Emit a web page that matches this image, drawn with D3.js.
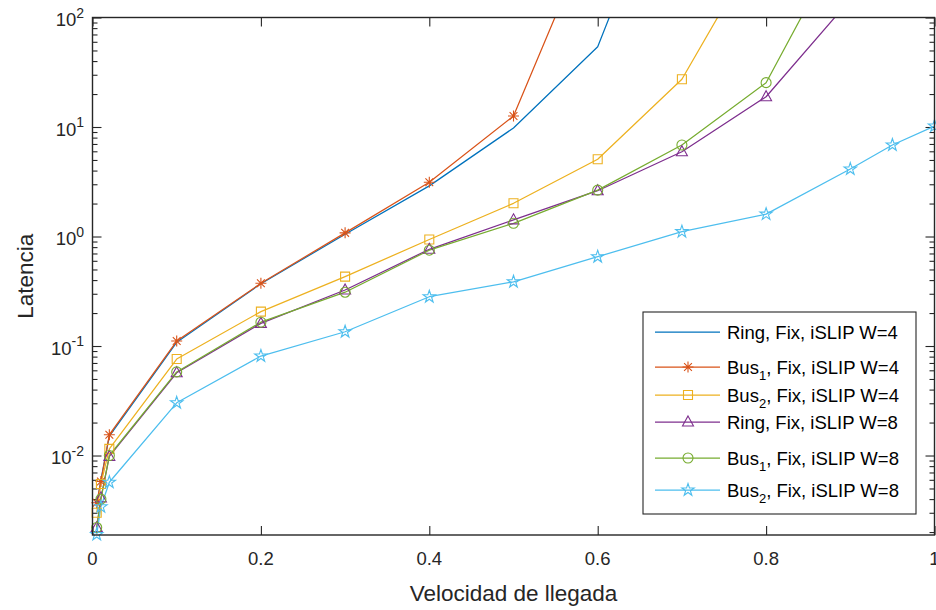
<!DOCTYPE html>
<html><head><meta charset="utf-8">
<script src="https://cdn.jsdelivr.net/npm/d3@7"></script>
<style>
body{margin:0;background:#fff}
svg{display:block}
text{font-family:"Liberation Sans",Arial,Helvetica,sans-serif}
</style>
</head><body>
<svg id="c" width="936" height="610"></svg>
<script>
// ---- data ----
const rates = [0.005, 0.01, 0.02, 0.1, 0.2, 0.3, 0.4, 0.5, 0.6, 0.7, 0.8, 0.9, 0.95, 1.0];
const ringW4 = [0.0035, 0.006, 0.015, 0.108, 0.37, 1.05, 2.9, 9.8, 54, 4800, null, null, null, null];
const bus1W4 = [0.0037, 0.0058, 0.0155, 0.111, 0.374, 1.08, 3.13, 12.6, 850, null, null, null, null, null];
const bus2W4 = [0.003, 0.0055, 0.0115, 0.076, 0.206, 0.43, 0.94, 2.01, 5.07, 27.3, 585, null, null, null];
const ringW8 = [0.0022, 0.0041, 0.0098, 0.057, 0.161, 0.325, 0.764, 1.42, 2.62, 5.95, 18.9, 146, null, null];
const bus1W8 = [0.0022, 0.004, 0.0100, 0.058, 0.165, 0.31, 0.75, 1.32, 2.65, 6.85, 25.4, 684, null, null];
const bus2W8 = [0.0019, 0.0034, 0.0057, 0.0303, 0.081, 0.135, 0.282, 0.386, 0.654, 1.107, 1.60, 4.13, 6.85, 10.2];

const seriesValues = [ringW4, bus1W4, bus2W4, ringW8, bus1W8, bus2W8];
const labelBase = ["Ring", "Bus", "Bus", "Ring", "Bus", "Bus"];
const labelSub  = [null, "1", "2", null, "1", "2"];
const labelRest = [", Fix, iSLIP W=4", ", Fix, iSLIP W=4", ", Fix, iSLIP W=4",
                   ", Fix, iSLIP W=8", ", Fix, iSLIP W=8", ", Fix, iSLIP W=8"];
const colors = ["#0072BD", "#D95319", "#EDB120", "#7E2F8E", "#77AC30", "#4DBEEE"];
const markers = ["none", "asterisk", "square", "triangle", "circle", "pentagram"];
const xTicks = [0, 0.2, 0.4, 0.6, 0.8, 1];
const xTickLabels = ["0", "0.2", "0.4", "0.6", "0.8", "1"];
const yTickExps = [-2, -1, 0, 1, 2];
const xLabel = "Velocidad de llegada";
const yLabel = "Latencia";

// ---- layout ----
const L = 92.5, R = 934.5, T = 17.5, B = 535;
const svg = d3.select("#c");
svg.append("rect").attr("width", 936).attr("height", 610).attr("fill", "#fff");

const x = d3.scaleLinear().domain([0, 1]).range([L, R]);
const y = d3.scaleLog().domain([0.00188, 100]).range([B, T]);

svg.append("defs").append("clipPath").attr("id", "plotclip")
  .append("rect").attr("x", L).attr("y", T).attr("width", R - L).attr("height", B - T);

const axisCol = "#262626";
const majorY = yTickExps.map(e => Math.pow(10, e));
const minorY = [];
for (let e = -3; e <= 1; e++) for (let m = 2; m <= 9; m++) {
  const v = m * Math.pow(10, e);
  if (v >= y.domain()[0] && v <= y.domain()[1]) minorY.push(v);
}

function styleAxis(g) {
  g.select(".domain").remove();
  g.selectAll(".tick line").attr("stroke", axisCol).attr("stroke-width", 1.1);
}
// bottom & top axes (inward ticks)
svg.append("g").attr("transform", `translate(0,${B})`)
  .call(d3.axisBottom(x).tickValues(xTicks).tickSize(-9).tickFormat(""))
  .call(styleAxis);
svg.append("g").attr("transform", `translate(0,${T})`)
  .call(d3.axisTop(x).tickValues(xTicks).tickSize(-9).tickFormat(""))
  .call(styleAxis);
// left & right axes, major and minor
svg.append("g").attr("transform", `translate(${L},0)`)
  .call(d3.axisLeft(y).tickValues(majorY).tickSize(-9).tickFormat("")).call(styleAxis);
svg.append("g").attr("transform", `translate(${L},0)`)
  .call(d3.axisLeft(y).tickValues(minorY).tickSize(-5).tickFormat("")).call(styleAxis);
svg.append("g").attr("transform", `translate(${R},0)`)
  .call(d3.axisRight(y).tickValues(majorY).tickSize(-9).tickFormat("")).call(styleAxis);
svg.append("g").attr("transform", `translate(${R},0)`)
  .call(d3.axisRight(y).tickValues(minorY).tickSize(-5).tickFormat("")).call(styleAxis);

// tick labels
svg.append("g").selectAll("text").data(xTicks).join("text")
  .attr("x", d => x(d)).attr("y", 565).attr("text-anchor", "middle")
  .attr("font-size", 18.5).attr("fill", axisCol)
  .text((d, i) => xTickLabels[i]);

const yl = svg.append("g").selectAll("text").data(yTickExps).join("text")
  .attr("x", 84).attr("y", d => y(Math.pow(10, d)) + 8.5).attr("text-anchor", "end")
  .attr("fill", axisCol);
yl.append("tspan").attr("font-size", 18.5).text("10");
yl.append("tspan").attr("font-size", 14).attr("dy", -8.5).text(d => d < 0 ? "-" + Math.abs(d) : String(d));

// axis labels
svg.append("text").attr("x", (L + R) / 2).attr("y", 601).attr("text-anchor", "middle")
  .attr("font-size", 22.5).attr("fill", axisCol).text(xLabel);
svg.append("text").attr("transform", `translate(33,${(T + B) / 2}) rotate(-90)`)
  .attr("text-anchor", "middle").attr("font-size", 22.5).attr("fill", axisCol).text(yLabel);

// ---- markers ----
function pentagramPath(ro) {
  const ri = ro * 0.382; let p = "";
  for (let k = 0; k < 10; k++) {
    const r = k % 2 === 0 ? ro : ri;
    const a = -Math.PI / 2 + k * Math.PI / 5;
    p += (k === 0 ? "M" : "L") + (r * Math.cos(a)).toFixed(2) + "," + (r * Math.sin(a)).toFixed(2);
  }
  return p + "Z";
}
const circlePath = (() => { const p = d3.path(); p.arc(0, 0, 5, 0, 2 * Math.PI); return p.toString(); })();
const markerPaths = {
  asterisk: "M-5.5,0L5.5,0M0,-5.5L0,5.5M-3.9,-3.9L3.9,3.9M-3.9,3.9L3.9,-3.9",
  square: "M-4.5,-4.5L4.5,-4.5L4.5,4.5L-4.5,4.5Z",
  triangle: "M0,-6L5.5,4L-5.5,4Z",
  circle: circlePath,
  pentagram: pentagramPath(6.5)
};
function drawMarker(g, type, color, cx, cy) {
  if (type === "none") return;
  g.append("path").attr("d", markerPaths[type]).attr("transform", `translate(${cx},${cy})`)
    .attr("fill", "none").attr("stroke", color).attr("stroke-width", 1.1);
}

// ---- series ----
const plot = svg.append("g");
const lineG = plot.append("g").attr("clip-path", "url(#plotclip)");
seriesValues.forEach((vals, si) => {
  const pts = rates.map((r, i) => [r, vals[i]]);
  const line = d3.line().defined(d => d[1] != null).x(d => x(d[0])).y(d => y(d[1]));
  lineG.append("path").datum(pts).attr("d", line).attr("fill", "none")
    .attr("stroke", colors[si]).attr("stroke-width", 1.25).attr("stroke-linejoin", "round");
});
seriesValues.forEach((vals, si) => {
  const g = plot.append("g");
  rates.forEach((r, i) => {
    const v = vals[i];
    if (v == null || v > y.domain()[1] || v < y.domain()[0] * 0.98) return;
    drawMarker(g, markers[si], colors[si], x(r), y(v));
  });
});

// box
svg.append("rect").attr("x", L).attr("y", T).attr("width", R - L).attr("height", B - T)
  .attr("fill", "none").attr("stroke", axisCol).attr("stroke-width", 1.4);

// ---- legend ----
const lg = svg.append("g");
lg.append("rect").attr("x", 643).attr("y", 312).attr("width", 273).attr("height", 202)
  .attr("fill", "#fff").attr("stroke", axisCol).attr("stroke-width", 1.1);
const rowY = [332, 367, 395, 422, 458, 490];
rowY.forEach((ry, si) => {
  lg.append("line").attr("x1", 655).attr("x2", 720).attr("y1", ry).attr("y2", ry)
    .attr("stroke", colors[si]).attr("stroke-width", 1.25);
  drawMarker(lg, markers[si], colors[si], 688, ry);
  const t = lg.append("text").attr("x", 727).attr("y", ry + 6.5).attr("fill", "#000").attr("font-size", 18.5);
  t.append("tspan").text(labelBase[si]);
  if (labelSub[si]) {
    t.append("tspan").attr("font-size", 13).attr("dy", 6).text(labelSub[si]);
    t.append("tspan").attr("dy", -6).text(labelRest[si]);
  } else {
    t.append("tspan").text(labelRest[si]);
  }
});
</script>
</body></html>
